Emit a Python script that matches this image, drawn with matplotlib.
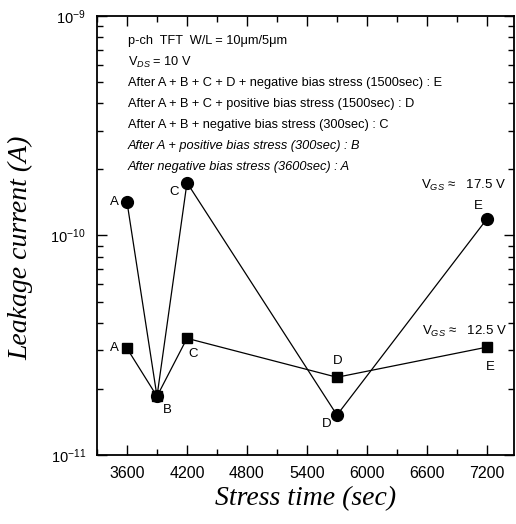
import numpy as np
import matplotlib
matplotlib.use("Agg")
import matplotlib.pyplot as plt
from matplotlib.ticker import LogLocator, MultipleLocator, LogFormatterSciNotation

plt.rcParams['font.family'] = ['Liberation Sans', 'DejaVu Sans']
plt.rcParams['mathtext.fontset'] = 'custom'
plt.rcParams['mathtext.rm'] = 'Liberation Sans'
plt.rcParams['mathtext.it'] = 'Liberation Sans:italic'

# data
stress_time = [3600, 3900, 4200, 5700, 7200]
point_names = ["A", "B", "C", "D", "E"]
leak_vgs_175 = [1.42e-10, 1.85e-11, 1.74e-10, 1.52e-11, 1.19e-10]
leak_vgs_125 = [3.06e-11, 1.85e-11, 3.4e-11, 2.26e-11, 3.1e-11]
x_ticks = [3600, 4200, 4800, 5400, 6000, 6600, 7200]

info_lines = [
    "p-ch  TFT  W/L = 10μm/5μm",
    "V$_{DS}$ = 10 V",
    "After A + B + C + D + negative bias stress (1500sec) : E",
    "After A + B + C + positive bias stress (1500sec) : D",
    "After A + B + negative bias stress (300sec) : C",
    "After A + positive bias stress (300sec) : B",
    "After negative bias stress (3600sec) : A",
]
info_italic = [False, False, False, False, False, True, True]

fig = plt.figure(figsize=(5.16, 5.24), dpi=100)
ax = fig.add_axes([0.188, 0.1317, 0.808, 0.8378])

ax.plot(stress_time, leak_vgs_175, "-", color="black", lw=0.9,
        marker="o", markersize=8.5)
ax.plot(stress_time, leak_vgs_125, "-", color="black", lw=0.9,
        marker="s", markersize=7.5)

ax.set_yscale("log")
ax.set_xlim(3300, 7470)
ax.set_ylim(1e-11, 1e-9)
ax.set_xticks(x_ticks)
ax.xaxis.set_minor_locator(MultipleLocator(300))
ax.yaxis.set_major_locator(LogLocator(base=10))
ax.yaxis.set_minor_locator(LogLocator(base=10, subs=np.arange(2, 10)))
ax.yaxis.set_major_formatter(LogFormatterSciNotation())
ax.tick_params(which="both", direction="in", top=True, right=True, width=1)
ax.tick_params(which="major", length=7, labelsize=11.5, pad=8)
ax.tick_params(axis="y", which="major", labelsize=10.5)
ax.tick_params(which="minor", length=4)
for s in ax.spines.values():
    s.set_linewidth(1.3)

ax.set_xlabel("Stress time (sec)", family="Liberation Serif", style="italic",
              fontsize=20)
ax.set_ylabel("Leakage current (A)", family="Liberation Serif", style="italic",
              fontsize=20)
ax.xaxis.set_label_coords(0.5, -0.07)
ax.yaxis.set_label_coords(-0.152, 0.472)

# legend-like text block
for i, (line, it) in enumerate(zip(info_lines, info_italic)):
    ax.text(0.074, 0.943 - i * 0.0478, line, transform=ax.transAxes,
            fontsize=9.2, style="italic" if it else "normal",
            ha="left", va="center")

# point labels
offs_175 = {"A": (-13, 0), "B": (10, -14), "C": (-13, -9), "D": (-10, -9), "E": (-9, 13)}
offs_125 = {"A": (-13, 0), "C": (6, -16), "D": (1, 16), "E": (3, -20)}
for name, x, y in zip(point_names, stress_time, leak_vgs_175):
    ax.annotate(name, (x, y), xytext=offs_175[name], textcoords="offset pixels",
                ha="center", va="center", fontsize=9.5)
for name, x, y in zip(point_names, stress_time, leak_vgs_125):
    if name in offs_125:
        ax.annotate(name, (x, y), xytext=offs_125[name], textcoords="offset pixels",
                    ha="center", va="center", fontsize=9.5)

ax.text(0.880, 0.613, "V$_{GS}$ ≈   17.5 V", transform=ax.transAxes,
        ha="center", va="center", fontsize=9.5)
ax.text(0.882, 0.282, "V$_{GS}$ ≈   12.5 V", transform=ax.transAxes,
        ha="center", va="center", fontsize=9.5)

fig.savefig("out.png", dpi=100)
